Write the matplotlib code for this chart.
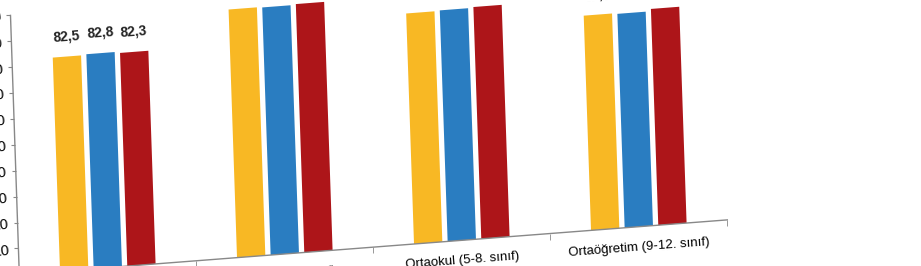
import numpy as np
import matplotlib.pyplot as plt
from matplotlib.transforms import Affine2D

# Veriler
categories = ['Okul öncesi', 'İlkokul (1-4. sınıf)', 'Ortaokul (5-8. sınıf)', 'Ortaöğretim (9-12. sınıf)']
series_1 = [82.5, 95.8, 89.0, 82.9]
series_2 = [82.8, 95.6, 89.2, 82.6]
series_3 = [82.3, 95.9, 89.5, 83.5]
yticks = list(range(0, 101, 10))

colors = ['#F8B824', '#2A7DC1', '#AD1519']
plt.rcParams['font.family'] = ['Liberation Sans', 'DejaVu Sans']

W, H = 921, 266
fig = plt.figure(figsize=(W / 100, H / 100), dpi=100)
fig.patch.set_facecolor('white')

# eksen orijini (piksel) ve boyutlar
ox, oy = 19.3, H - 274.4
ax = fig.add_axes([ox / W, oy / H, 708 / W, 259 / H])

x = np.arange(len(categories))
width = 0.16
step = 0.19
for i, vals in enumerate([series_1, series_2, series_3]):
    ax.bar(x + (i - 1) * step, vals, width, color=colors[i])
    for xi, v in zip(x, vals):
        ax.text(xi + (i - 1) * step, v + 4.8, f'{v:.1f}'.replace('.', ','),
                ha='center', va='bottom', fontsize=10, fontweight='bold', color='#222222')

ax.set_xlim(-0.5, 3.5)
ax.set_ylim(0, 100)
ax.set_yticks(yticks)
ax.set_xticks(x)
ax.set_xticklabels(categories)
ax.set_xticks([0.5, 1.5, 2.5, 3.5], minor=True)
ax.text(-0.04, 1.06, '(%)', transform=ax.transAxes, ha='right', fontsize=11)

for s in ax.spines.values():
    s.set_visible(False)
ax.tick_params(axis='y', labelsize=10.5, length=3, color='#888888', pad=3)
ax.tick_params(axis='x', which='major', labelsize=9.5, length=0, pad=7)
ax.tick_params(axis='x', which='minor', length=4, color='#888888')
ax.axhline(0, color='#888888', lw=1)
ax.axvline(-0.5, color='#888888', lw=1)

# fotoğraftaki eğiklik: taban çizgisi sağa doğru yükseliyor
skew = (Affine2D().translate(-ox, -oy)
        + Affine2D(np.array([[1.0, -0.034, 0], [0.077, 1.0, 0], [0, 0, 1]]))
        + Affine2D().translate(ox, oy))
angle = np.degrees(np.arctan(0.077))

def tilt(a, rotate=False):
    a.set_transform(a.get_transform() + skew)
    a.set_clip_on(False)
    if rotate:
        a.set_rotation(angle)

for p in ax.patches:
    p.set_transform(ax.transData + skew)
    p.set_clip_on(False)
for ln in ax.lines:
    tilt(ln)
for t in ax.texts:
    tilt(t, rotate=True)
for tk in ax.xaxis.get_major_ticks(len(x)) + ax.yaxis.get_major_ticks(len(yticks)) \
        + ax.xaxis.get_minor_ticks(4):
    tilt(tk.tick1line)
    tilt(tk.label1, rotate=True)

ax.patch.set_visible(False)
fig.savefig('out.png', dpi=100)
